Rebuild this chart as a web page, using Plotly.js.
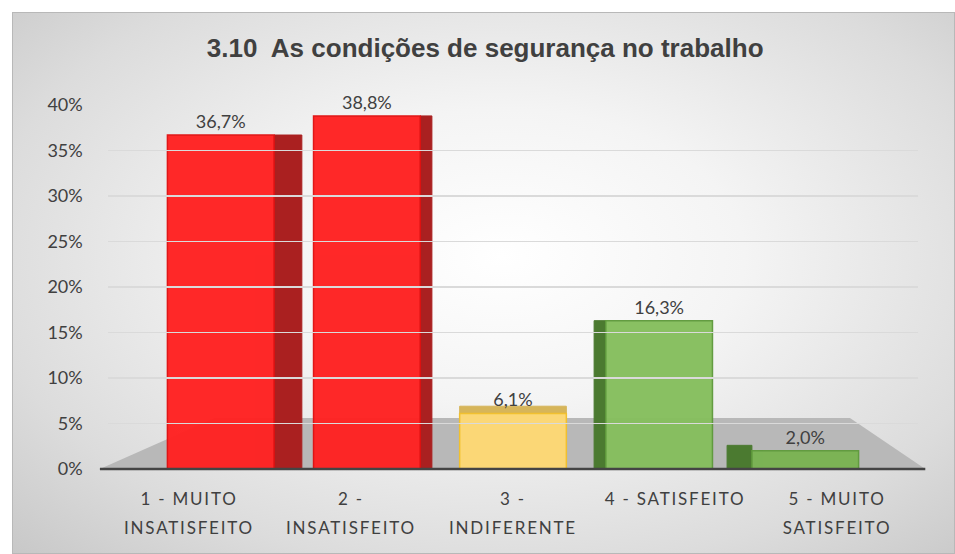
<!DOCTYPE html>
<html>
<head>
<meta charset="utf-8">
<script src="https://cdn.plot.ly/plotly-3.0.1.min.js"></script>
<style>
  html, body { margin:0; padding:0; background:#ffffff; }
  #frame { position:absolute; left:12px; top:12px; width:941px; height:540px;
    border:1px solid #b8b8b8;
    background: radial-gradient(ellipse at 52% 45%, #ffffff 0%, #f4f4f4 35%, #dcdcdc 75%, #c8c8c8 100%); }
  #chart { position:absolute; left:0; top:0; width:955px; height:554px; }
  .x2tick text, .x3tick text { letter-spacing: 1.8px; }
</style>
</head>
<body>
<div id="frame"></div>
<div id="chart"></div>
<script>
const labelLine1 = ["1 - MUITO", "2 -", "3 -", "4 - SATISFEITO", "5 - MUITO"];
const labelLine2 = ["INSATISFEITO", "INSATISFEITO", "INDIFERENTE", "", "SATISFEITO"];
const categories = labelLine1.map((a, i) => (a + ' ' + labelLine2[i]).trim());
const values = [36.7, 38.8, 6.1, 16.3, 2.0];
const frontColors = ["#ff2222", "#ff2222", "#fdd977", "#86bf5e", "#7ab352"];
const edgeColors = ["#e01010", "#e01010", "#f2c12e", "#5f9a3c", "#5f9a3c"];
const sideColors = ["#aa2020", "#aa2020", "#d6b55a", "#4b7a30", "#4b7a30"];
const sideOffsets = [0.365, 0.365, -0.365, -0.445, -0.535];
const sideWidths = [0.19, 0.08, 0.73, 0.08, 0.17];
const sideValues = [36.7, 38.8, 6.9, 16.3, 2.6];
const yTicks = [0, 5, 10, 15, 20, 25, 30, 35, 40];
const labelPos = [0, 1, 2, 3, 4];

const side = {
  type: 'bar', x: categories, y: sideValues,
  offset: sideOffsets, width: sideWidths,
  marker: { color: sideColors, line: { color: sideColors, width: 1 } },
  hoverinfo: 'skip', showlegend: false
};
const front = {
  type: 'bar', x: categories, y: values,
  offset: -0.365, width: 0.73,
  marker: { color: frontColors, opacity: 0.97, line: { color: edgeColors, width: 1.5 } },
  text: values, texttemplate: '%{y:.1f}%', textposition: 'outside', cliponaxis: false,
  textfont: { family: 'Lato, sans-serif', size: 18, color: '#404040' },
  showlegend: false
};
const labels1 = { type: 'scatter', mode: 'none', x: labelPos, y: values, xaxis: 'x2', yaxis: 'y', hoverinfo: 'skip', showlegend: false };
const labels2 = { type: 'scatter', mode: 'none', x: labelPos, y: values, xaxis: 'x3', yaxis: 'y', hoverinfo: 'skip', showlegend: false };

const labelFont = { family: 'Lato, sans-serif', size: 17, color: '#404040' };
const layout = {
  width: 955, height: 554,
  margin: { l: 108, r: 37, t: 105, b: 85 },
  paper_bgcolor: 'rgba(0,0,0,0)', plot_bgcolor: 'rgba(0,0,0,0)',
  separators: ',.',
  barmode: 'overlay',
  title: { text: '<b>3.10  As condições de segurança no trabalho</b>', x: 0.508, xanchor: 'center', y: 0.913, yanchor: 'middle',
    font: { family: 'Liberation Sans, Arial, sans-serif', size: 26, color: '#404040' } },
  xaxis: { type: 'category', domain: [0.049, 0.951], showgrid: false, zeroline: false, showline: false, ticks: '',
    showticklabels: false, fixedrange: true },
  xaxis2: { anchor: 'y', domain: [0, 1], range: [-0.5, 4.5], tickvals: labelPos, ticktext: labelLine1,
    showgrid: false, zeroline: false, showline: false, ticks: '', tickfont: labelFont, ticklabelstandoff: 18, fixedrange: true },
  xaxis3: { anchor: 'y', domain: [0, 1], range: [-0.5, 4.5], tickvals: labelPos, ticktext: labelLine2,
    showgrid: false, zeroline: false, showline: false, ticks: '', tickfont: labelFont, ticklabelstandoff: 47, fixedrange: true },
  yaxis: { range: [0, 40], tickvals: yTicks, ticktext: yTicks.map(v => v + '%'),
    showgrid: true, gridcolor: '#dadada', gridwidth: 1.5, zeroline: false, showline: false,
    tickfont: { family: 'Lato, sans-serif', size: 18, color: '#404040' },
    ticklabelstandoff: 64, fixedrange: true },
  shapes: [
    { type: 'path', xref: 'paper', yref: 'paper', layer: 'below',
      path: 'M -0.01 0 L 1.009 0 L 0.916 0.14 L 0.132 0.14 Z',
      fillcolor: '#b8b8b8', line: { width: 0 } },
    { type: 'line', xref: 'paper', yref: 'paper', x0: -0.01, x1: 1.009, y0: 0, y1: 0,
      line: { color: '#444444', width: 2.5 } }
  ]
};

Plotly.newPlot('chart', [side, front, labels1, labels2], layout, { displayModeBar: false, staticPlot: true });
</script>
</body>
</html>
